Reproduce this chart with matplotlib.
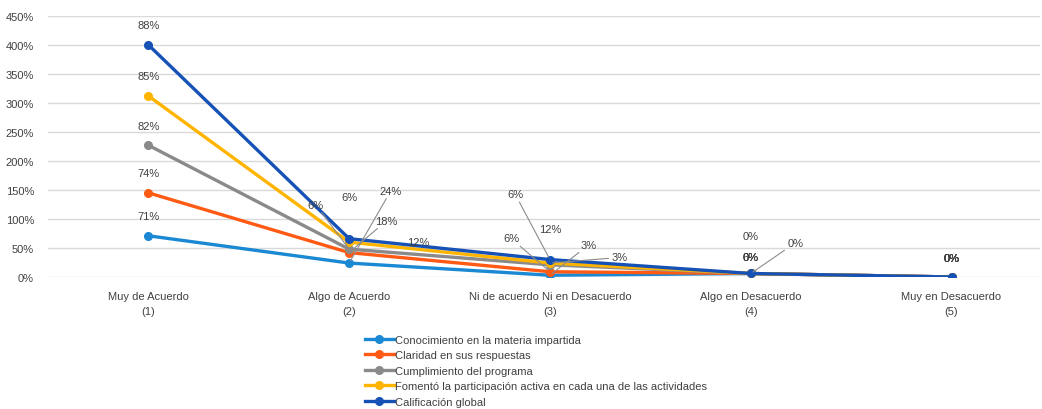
import numpy as np
import matplotlib.pyplot as plt

plt.rcParams['font.family'] = ['Liberation Sans Narrow', 'Liberation Sans', 'DejaVu Sans']

categorias = ['Muy de Acuerdo\n(1)', 'Algo de Acuerdo\n(2)', 'Ni de acuerdo Ni en Desacuerdo\n(3)',
              'Algo en Desacuerdo\n(4)', 'Muy en Desacuerdo\n(5)']
series = ['Conocimiento en la materia impartida', 'Claridad en sus respuestas',
          'Cumplimiento del programa',
          'Fomentó la participación activa en cada una de las actividades',
          'Calificación global']
conocimiento = [71, 24, 3, 6, 0]
claridad = [74, 18, 6, 0, 0]
cumplimiento = [82, 6, 12, 0, 0]
fomento = [85, 12, 3, 0, 0]
global_ = [88, 6, 6, 0, 0]
colores = ['#1A88D2', '#FF5A14', '#8A8A8A', '#FFB400', '#1652B6']

valores = np.array([conocimiento, claridad, cumplimiento, fomento, global_])
acum = np.cumsum(valores, axis=0)

fig = plt.figure(figsize=(10.42, 4.10), dpi=100)
ax = fig.add_axes([0.046, 0.322, 0.952, 0.637])
x = np.arange(len(categorias))

for i in range(len(series)):
    ax.plot(x, acum[i], color=colores[i], lw=2.4, marker='o', ms=5.5, label=series[i], zorder=3)

# etiquetas: (serie, categoria, dx, dy en puntos, linea guia)
etiquetas = [
    (0, 0, 0, 14, False), (1, 0, 0, 14, False), (2, 0, 0, 14, False),
    (3, 0, 0, 14, False), (4, 0, 0, 14, False),
    (0, 1, 30, 52, True), (1, 1, 27, 23, True), (2, 1, -24, 32, True),
    (3, 1, 50, 0, False), (4, 1, 0, 30, False),
    (0, 2, 28, 22, True), (1, 2, -28, 24, True), (2, 2, 0, 26, False),
    (3, 2, 50, 4, True), (4, 2, -25, 47, True),
    (0, 3, 0, 12, False), (1, 3, 0, 12, False), (2, 3, 0, 12, False),
    (3, 3, 32, 22, True), (4, 3, 0, 27, False),
    (0, 4, 0, 14, False), (1, 4, 0, 14, False), (2, 4, 0, 14, False),
    (3, 4, 0, 14, False), (4, 4, 0, 14, False),
]
for s, c, dx, dy, guia in etiquetas:
    props = dict(arrowstyle='-', color='#8C8C8C', lw=0.8, shrinkA=0, shrinkB=2) if guia else None
    ax.annotate('%d%%' % valores[s, c], xy=(x[c], acum[s, c]), xytext=(dx, dy),
                textcoords='offset points', ha='center', va='center', fontsize=8,
                color='#404040', arrowprops=props)

ax.set_xlim(-0.5, 4.44)
ax.set_ylim(0, 450)
ax.set_yticks(np.arange(0, 451, 50))
ax.set_yticklabels(['%d%%' % v for v in range(0, 451, 50)])
ax.set_xticks(x)
ax.set_xticklabels(categorias, linespacing=1.6)
ax.tick_params(length=0, labelsize=8, colors='#404040', pad=10)
ax.grid(axis='y', color='#D9D9D9', lw=1)
ax.set_axisbelow(True)
for sp in ax.spines.values():
    sp.set_visible(False)

fig.legend(loc='upper left', bbox_to_anchor=(0.345, 0.195), frameon=False, fontsize=8,
           handlelength=2.6, handletextpad=0.1, labelspacing=0.5, borderpad=0,
           labelcolor='#404040')

fig.savefig('out.png', dpi=100)
